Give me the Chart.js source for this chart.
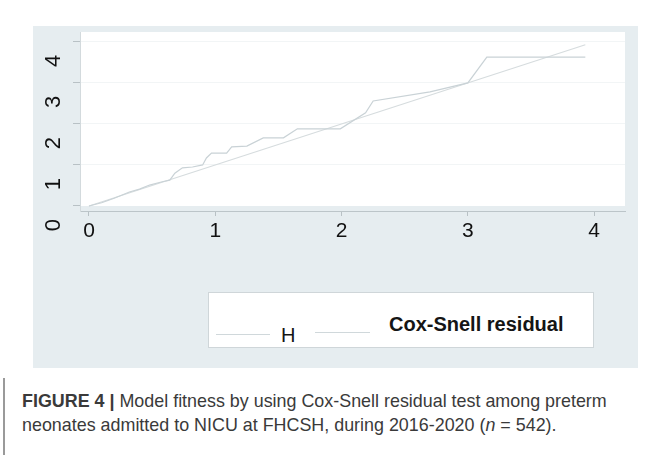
<!DOCTYPE html>
<html><head><meta charset="utf-8">
<script src="https://cdn.jsdelivr.net/npm/chart.js@4.4.0/dist/chart.umd.min.js"></script>
<style>
html,body{margin:0;padding:0;background:#fff;width:655px;height:455px;overflow:hidden;font-family:"Liberation Sans",Arial,sans-serif;}
#panel{position:absolute;left:33px;top:26px;width:605px;height:342px;background:#e6edf0;}
#panel canvas{position:absolute;left:0;top:0;}
#legend{position:absolute;left:175px;top:266px;width:384px;height:54px;background:#fff;border:1px solid #cfd6d9;}
.ls{position:absolute;height:0;border-top:1.2px solid #d0d8db;}
.lt{position:absolute;color:#151515;font-size:20px;line-height:20px;white-space:nowrap;}
#caption{position:absolute;left:22px;top:389px;width:632px;font-family:"Liberation Sans",Arial,sans-serif;font-size:17.9px;line-height:24px;color:#3a3a3a;white-space:nowrap;}
#bar{position:absolute;left:3px;top:378px;width:2px;height:77px;background:#9a9a9a;}
</style></head>
<body>
<div id="panel">
  <canvas id="c" width="605" height="342"></canvas>
  <div id="legend">
    <div class="ls" style="left:7px;top:41px;width:54px;"></div>
    <div class="lt" id="lab0" style="left:72px;top:32px;"></div>
    <div class="ls" style="left:106px;top:39px;width:55px;"></div>
    <div class="lt" id="lab1" style="left:180px;top:21px;font-weight:bold;"></div>
  </div>
</div>
<div id="bar"></div>
<div id="caption"><b>FIGURE 4 |</b> Model fitness by using Cox-Snell residual test among preterm<br>neonates admitted to NICU at FHCSH, during 2016-2020 (<i>n</i> = 542).</div>
<script>
// ---- data ----
const seriesNames = ['H', 'Cox-Snell residual'];
const hX = [0, 0.10, 0.20, 0.32, 0.40, 0.48, 0.58, 0.64, 0.68, 0.74, 0.82, 0.90, 0.93, 0.97, 1.09, 1.13, 1.25, 1.38, 1.54, 1.65, 1.99, 2.19, 2.25, 2.70, 3.00, 3.15, 3.93];
const hY = [0, 0.08, 0.19, 0.34, 0.41, 0.51, 0.59, 0.63, 0.80, 0.93, 0.95, 1.00, 1.17, 1.29, 1.29, 1.44, 1.46, 1.66, 1.66, 1.88, 1.88, 2.27, 2.56, 2.78, 3.00, 3.63, 3.63];
const refX = [0, 3.93];
const refY = [0, 3.93];
const xTicks = [0, 1, 2, 3, 4];
const yTicks = [0, 1, 2, 3, 4];

document.getElementById('lab0').textContent = seriesNames[0];
document.getElementById('lab1').textContent = seriesNames[1];

const plotBg = {
  id: 'plotBg',
  beforeDraw(chart) {
    const {ctx, chartArea, scales} = chart;
    const bottom = scales.y.getPixelForValue(0);
    ctx.save();
    ctx.fillStyle = '#ffffff';
    ctx.fillRect(chartArea.left, chartArea.top, chartArea.right - chartArea.left, bottom - chartArea.top);
    ctx.restore();
  }
};

new Chart(document.getElementById('c'), {
  type: 'scatter',
  data: {
    datasets: [
      { label: seriesNames[0], data: hX.map((x, i) => ({x, y: hY[i]})), showLine: true,
        borderColor: '#c9d2d6', borderWidth: 1.2, pointRadius: 0, tension: 0 },
      { label: seriesNames[1], data: refX.map((x, i) => ({x, y: refY[i]})), showLine: true,
        borderColor: '#d6dcde', borderWidth: 1.2, pointRadius: 0, tension: 0 }
    ]
  },
  options: {
    responsive: false, animation: false,
    layout: { padding: { left: 0, right: 13, top: 6, bottom: 117 } },
    plugins: { legend: { display: false }, tooltip: { enabled: false } },
    scales: {
      x: {
        type: 'linear', min: -0.071, max: 4.244,
        afterBuildTicks: s => { s.ticks = xTicks.map(v => ({value: v})); },
        afterFit: s => { s.height = 40; s.paddingLeft = 0; s.paddingRight = 0; },
        grid: { drawOnChartArea: false, drawTicks: true, tickLength: 5, tickColor: '#b8c1c5' },
        border: { display: true, color: '#bcc5c9', width: 1 },
        ticks: { color: '#111', font: { size: 21, family: 'Liberation Sans' }, padding: 3, maxRotation: 0, minRotation: 0,
                 callback: v => String(v) }
      },
      y: {
        type: 'linear', min: -0.122, max: 4.24,
        afterBuildTicks: s => { s.ticks = yTicks.map(v => ({value: v})); },
        afterFit: s => { s.width = 47; s.paddingTop = 0; s.paddingBottom = 0; },
        grid: { color: c => (c.tick && c.tick.value === 0) ? 'rgba(0,0,0,0)' : '#f2f5f6', tickLength: 7, tickColor: '#b8c1c5', drawTicks: true },
        border: { display: true, color: '#d3dadd', width: 1 },
        ticks: { color: '#111', font: { size: 22, family: 'Liberation Sans' }, padding: 19, minRotation: 90, maxRotation: 90,
                 labelOffset: 13, callback: v => String(v) }
      }
    }
  },
  plugins: [plotBg]
});
</script>
</body></html>
